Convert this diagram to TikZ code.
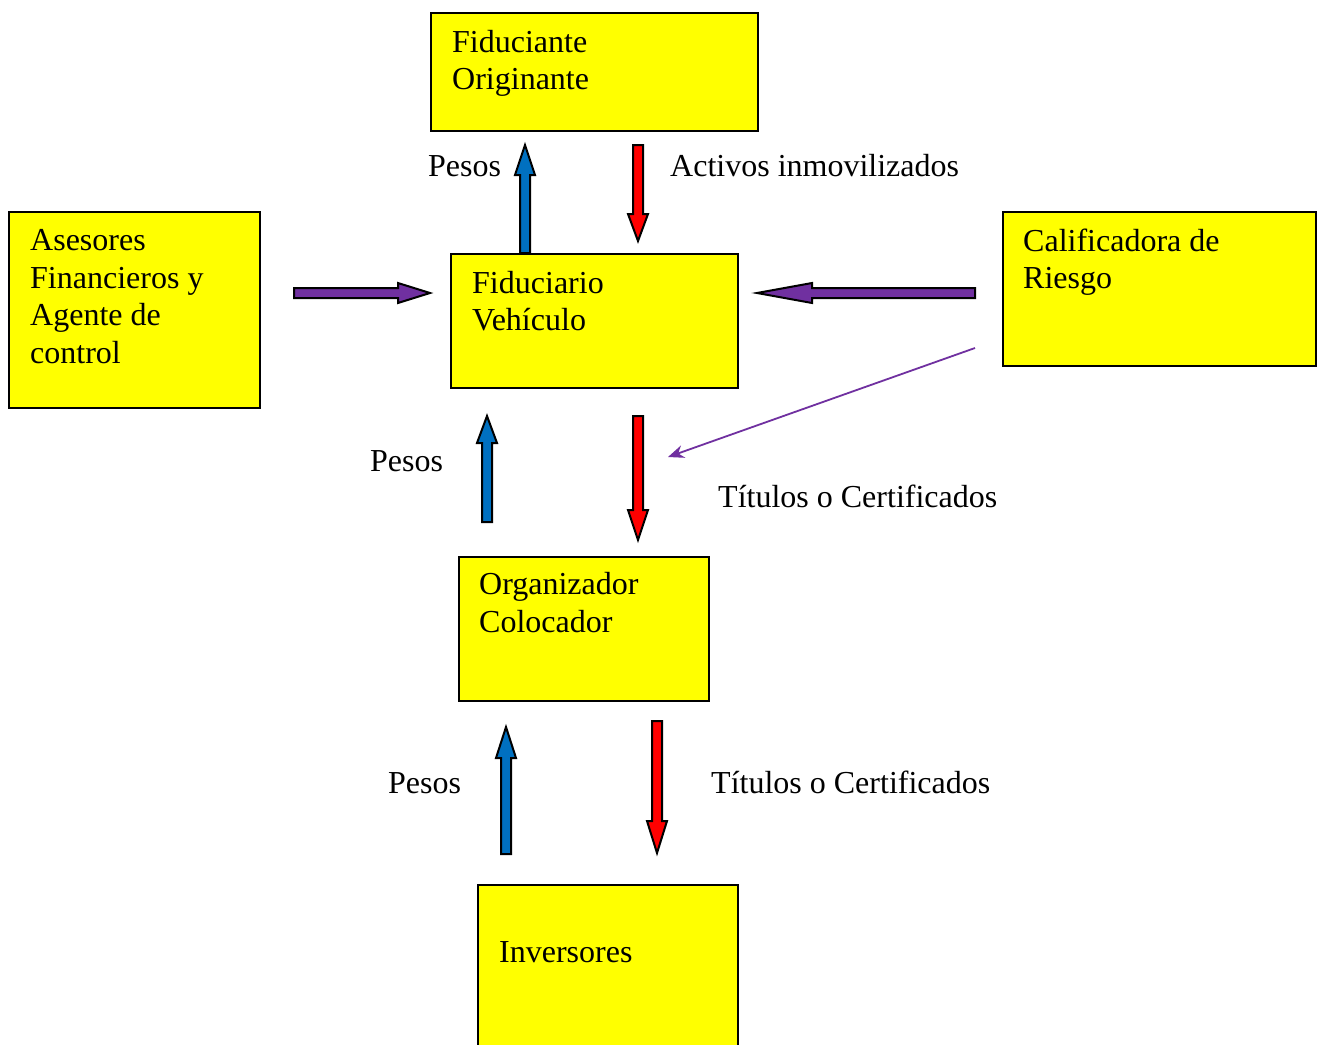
\documentclass[tikz,border=0pt]{standalone}
\usepackage{fontspec}
\setmainfont{Liberation Serif}
\usetikzlibrary{arrows.meta}
\definecolor{boxyellow}{HTML}{FFFF00}
\definecolor{arblue}{HTML}{0070C0}
\definecolor{arred}{HTML}{FF0000}
\definecolor{arpurple}{HTML}{7030A0}
\tikzset{
  box/.style={draw=black, fill=boxyellow, line width=2pt, inner sep=0pt, anchor=north west},
  txt/.style={font=\fontsize{32}{37.5}\selectfont, align=left, inner sep=0pt, anchor=base west},
  blockarrow/.style={draw=black, line width=2pt, line join=miter},
}
% vertical block arrow: color, x, tail y, head-base y, tip y
\newcommand\myvarrow[5]{%
  \draw[blockarrow, fill=#1] ({#2-5},{#3}) -- ({#2-5},{#4}) -- ({#2-10},{#4}) -- ({#2},{#5})
     -- ({#2+10},{#4}) -- ({#2+5},{#4}) -- ({#2+5},{#3}) -- cycle;}
% horizontal block arrow: color, y, tail x, head-base x, tip x
\newcommand\myharrow[5]{%
  \draw[blockarrow, fill=#1] ({#3},{#2-5}) -- ({#4},{#2-5}) -- ({#4},{#2-10}) -- ({#5},{#2})
     -- ({#4},{#2+10}) -- ({#4},{#2+5}) -- ({#3},{#2+5}) -- cycle;}
\begin{document}
\begin{tikzpicture}[x=1pt,y=-1pt]
\clip (0,0) rectangle (1321,1044);
\fill[white] (0,0) rectangle (1321,1044);

% boxes
\node[box, minimum width=327pt, minimum height=118pt] (fid) at (430,12) {};
\node[box, minimum width=251pt, minimum height=196pt] (ase) at (8,211) {};
\node[box, minimum width=287pt, minimum height=134pt] (fvh) at (450,253) {};
\node[box, minimum width=313pt, minimum height=154pt] (cal) at (1002,211) {};
\node[box, minimum width=250pt, minimum height=144pt] (org) at (458,556) {};
\node[box, minimum width=260pt, minimum height=180pt] (inv) at (477,884) {};

% box texts (anchor = baseline of last line)
\node[txt] (tfid) at (452,89.5) {Fiduciante\\Originante};
\node[txt] (tase) at (30,363) {Asesores\\Financieros y\\Agente de\\control};
\node[txt] (tfvh) at (472,330.5) {Fiduciario\\Vehículo};
\node[txt] (tcal) at (1023,288.5) {Calificadora de\\Riesgo};
\node[txt] (torg) at (479,632) {Organizador\\Colocador};
\node[txt] (tinv) at (499,962) {Inversores};

% block arrows
\myvarrow{arblue}{525}{253}{175}{145}
\myvarrow{arred}{638}{145}{214}{241}
\myharrow{arpurple}{293}{294}{398}{430}
\myharrow{arpurple}{293}{975}{812}{757}
\myvarrow{arblue}{487}{522}{443}{416}
\myvarrow{arred}{638}{416}{510}{540}
\myvarrow{arblue}{506}{854}{758}{727}
\myvarrow{arred}{657}{721}{821}{853}

% thin arrow
\coordinate (cs) at (975,348);
\coordinate (ce) at (668,457);
\draw[arpurple, line width=1.8pt, -{Stealth[length=16pt,width=13pt]}] (cs) -- (ce);

% labels
\node[txt] (l1) at (428,176) {Pesos};
\node[txt] (l2) at (670,176) {Activos inmovilizados};
\node[txt] (l3) at (370,471) {Pesos};
\node[txt] (l4) at (718,507) {Títulos o Certificados};
\node[txt] (l5) at (388,793) {Pesos};
\node[txt] (l6) at (711,793) {Títulos o Certificados};
\end{tikzpicture}
\end{document}
